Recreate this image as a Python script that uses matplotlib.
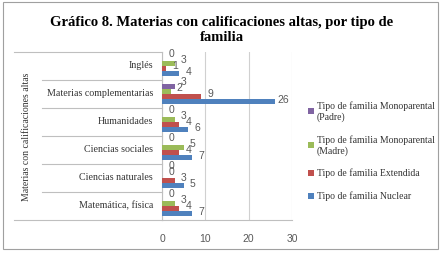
import matplotlib
matplotlib.use("Agg")
import matplotlib.pyplot as plt
import matplotlib.transforms as mtransforms
from matplotlib.patches import Rectangle
import numpy as np

plt.rcParams['font.family'] = ['Liberation Serif', 'DejaVu Serif']

# categories, bottom to top
categorias = ['Matemática, física', 'Ciencias naturales', 'Ciencias sociales',
              'Humanidades', 'Materias complementarias', 'Inglés']
series = ['Tipo de familia Nuclear', 'Tipo de familia Extendida',
          'Tipo de familia Monoparental\n(Madre)', 'Tipo de familia Monoparental\n(Padre)']
nuclear = [7, 5, 7, 6, 26, 4]
extendida = [4, 3, 4, 4, 9, 1]
madre = [3, 0, 5, 3, 2, 3]
padre = [0, 0, 0, 0, 3, 0]
valores = [nuclear, extendida, madre, padre]
colores = ['#4F81BD', '#C0504D', '#9BBB59', '#8064A2']

fig = plt.figure(figsize=(4.45, 2.56), dpi=100)
W, H = 445, 256
ax = fig.add_axes([162 / W, 1 - 220 / H, 130 / W, 168 / H])

y = np.arange(len(categorias))
h = 0.17
offsets = [-1.5 * h, -0.5 * h, 0.5 * h, 1.5 * h]
lift = [1.0, 1.5, 2.5, 3.5]
for vals, off, col, lab, lf in zip(valores, offsets, colores, series, lift):
    ax.barh(y + off, vals, height=h, color=col, label=lab, zorder=3)
    for yy, v in zip(y + off, vals):
        ax.annotate(str(v), (v, yy), xytext=(6.5, lf), textcoords='offset points',
                    ha='center', va='center', fontsize=7.5, color='#595959',
                    family='Liberation Sans', zorder=4)

ax.set_xlim(0, 30)
ax.set_ylim(-0.5, 5.5)
ax.set_xticks([0, 10, 20, 30])
ax.tick_params(axis='x', length=0, pad=10, labelsize=7.5, labelcolor='#595959')
for t in ax.get_xticklabels():
    t.set_family('Liberation Sans')
ax.set_yticks([])
ax.grid(axis='x', color='#D0D0D0', lw=0.8, zorder=0)
for s in ['top', 'right']:
    ax.spines[s].set_visible(False)
for s in ['left', 'bottom']:
    ax.spines[s].set_color('#BFBFBF')
    ax.spines[s].set_linewidth(0.8)

# category label box
tr = mtransforms.blended_transform_factory(ax.transAxes, ax.transData)
x_box = (14 - 162) / 130
x_sep = (42 - 162) / 130
for yy in [-0.5, 5.5]:
    ax.plot([x_box, 0], [yy, yy], color='#BFBFBF', lw=0.8, transform=tr, clip_on=False)
for k in range(len(categorias) - 1):
    ax.plot([x_sep, 0], [k + 0.5, k + 0.5], color='#BFBFBF', lw=0.8, transform=tr, clip_on=False)
for yy, c in zip(y, categorias):
    ax.text((153 - 162) / 130, yy, c, transform=tr, ha='right', va='center',
            fontsize=7.2, color='#333333')

fig.text(27 / W, 1 - 137 / H, 'Materias con calificaciones altas', rotation=90,
         ha='center', va='center', fontsize=7.0, color='#333333')

fig.text(222 / W, 1 - 30 / H, 'Gráfico 8. Materias con calificaciones altas, por tipo de\nfamilia',
         ha='center', va='center', fontsize=10.5, fontweight='bold', linespacing=1.15)

handles, labels = ax.get_legend_handles_labels()
leg = fig.legend(handles[::-1], labels[::-1], loc='upper left',
                 bbox_to_anchor=(304 / W, 1 - 97 / H), frameon=False,
                 fontsize=7, handlelength=0.6, handleheight=0.6,
                 handletextpad=0.3, labelspacing=1.35, borderaxespad=0)
for t in leg.get_texts():
    t.set_color('#333333')

# chart frame
fig.add_artist(Rectangle((3 / W, 1 - 249 / H), 435 / W, 247 / H, transform=fig.transFigure,
                         fill=False, edgecolor='#A0A0A0', lw=0.8))

fig.savefig('out.png', dpi=100)
